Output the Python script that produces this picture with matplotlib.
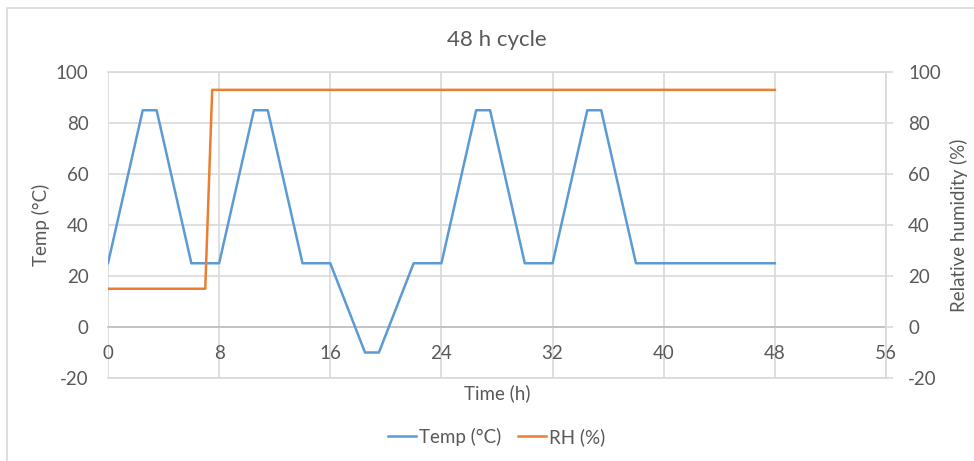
import matplotlib
matplotlib.use("Agg")
import matplotlib.pyplot as plt
from matplotlib.patches import Rectangle

plt.rcParams['font.family'] = ['Lato', 'DejaVu Sans']
plt.rcParams['axes.unicode_minus'] = False

# Data
time_temp = [0, 2.5, 3.5, 6, 8, 10.5, 11.5, 14, 16, 18.5, 19.5, 22, 24,
             26.5, 27.5, 30, 32, 34.5, 35.5, 38, 48]
temp = [25, 85, 85, 25, 25, 85, 85, 25, 25, -10, -10, 25, 25,
        85, 85, 25, 25, 85, 85, 25, 25]
time_rh = [0, 7, 7.5, 48]
rh = [15, 15, 93, 93]
x_ticks = [0, 8, 16, 24, 32, 40, 48, 56]
y_ticks = [-20, 0, 20, 40, 60, 80, 100]

TXT = '#595959'
GRID = '#d9d9d9'
BLUE = '#5B9BD5'
ORANGE = '#ED7D31'
FS = 13.5

W, H = 974, 461
fig = plt.figure(figsize=(W / 100, H / 100), dpi=100)
ax = fig.add_axes([108 / W, 1 - 378 / H, (886 - 108) / W, (378 - 72) / H])
ax2 = ax.twinx()

# chart frame
fig.patches.append(Rectangle((7 / W, -0.1), 1.2, 0.1 + (1 - 8 / H), transform=fig.transFigure,
                             fill=False, edgecolor=GRID, linewidth=1.2, zorder=0))

ax.plot(time_temp, temp, color=BLUE, linewidth=1.8, label='Temp (°C)', zorder=3)
ax2.plot(time_rh, rh, color=ORANGE, linewidth=1.8, label='RH (%)', zorder=3)

for a in (ax, ax2):
    a.set_xlim(0, 56)
    a.set_ylim(-20, 100)
    a.set_yticks(y_ticks)
    for s in a.spines.values():
        s.set_visible(False)

ax.set_xticks(x_ticks)
ax.set_xticklabels([str(v) for v in x_ticks])
ax.grid(True, color=GRID, linewidth=1.2, zorder=0)
ax.set_axisbelow(True)
ax.axhline(-20, color=GRID, linewidth=1.2, zorder=1, clip_on=False)
ax.axhline(100, color=GRID, linewidth=1.2, zorder=1, clip_on=False)
ax.spines['bottom'].set_visible(True)
ax.spines['bottom'].set_position(('data', 0))
ax.spines['bottom'].set_color('#bfbfbf')
ax.spines['bottom'].set_linewidth(1.2)

ax.tick_params(axis='x', length=0, pad=13, labelsize=FS, labelcolor=TXT)
ax.tick_params(axis='y', length=0, pad=14, labelsize=FS, labelcolor=TXT)

ax2.spines['right'].set_visible(True)
ax2.spines['right'].set_color(GRID)
ax2.spines['right'].set_linewidth(1.2)
ax2.tick_params(axis='y', length=5, width=1.2, color=GRID, pad=11, labelsize=FS, labelcolor=TXT)

ax.set_title('48 h cycle', fontsize=16, color=TXT, pad=19)
ax.set_xlabel('Time (h)', fontsize=FS, color=TXT)
ax.xaxis.set_label_coords(0.5, -0.02)
ax.set_ylabel('Temp (°C)', fontsize=FS, color=TXT)
ax.yaxis.set_label_coords(-0.074, 0.5)
ax2.set_ylabel('Relative humidity (%)', fontsize=FS, color=TXT)
ax2.yaxis.set_label_coords(1.082, 0.5)

h1, l1 = ax.get_legend_handles_labels()
h2, l2 = ax2.get_legend_handles_labels()
leg = fig.legend(h1 + h2, l1 + l2, loc='center', bbox_to_anchor=(497 / W, 1 - 437 / H),
                 ncol=2, frameon=False, fontsize=FS, handlelength=1.45,
                 handletextpad=0.2, columnspacing=0.9)
for t in leg.get_texts():
    t.set_color(TXT)

fig.savefig('out.png', dpi=100)
